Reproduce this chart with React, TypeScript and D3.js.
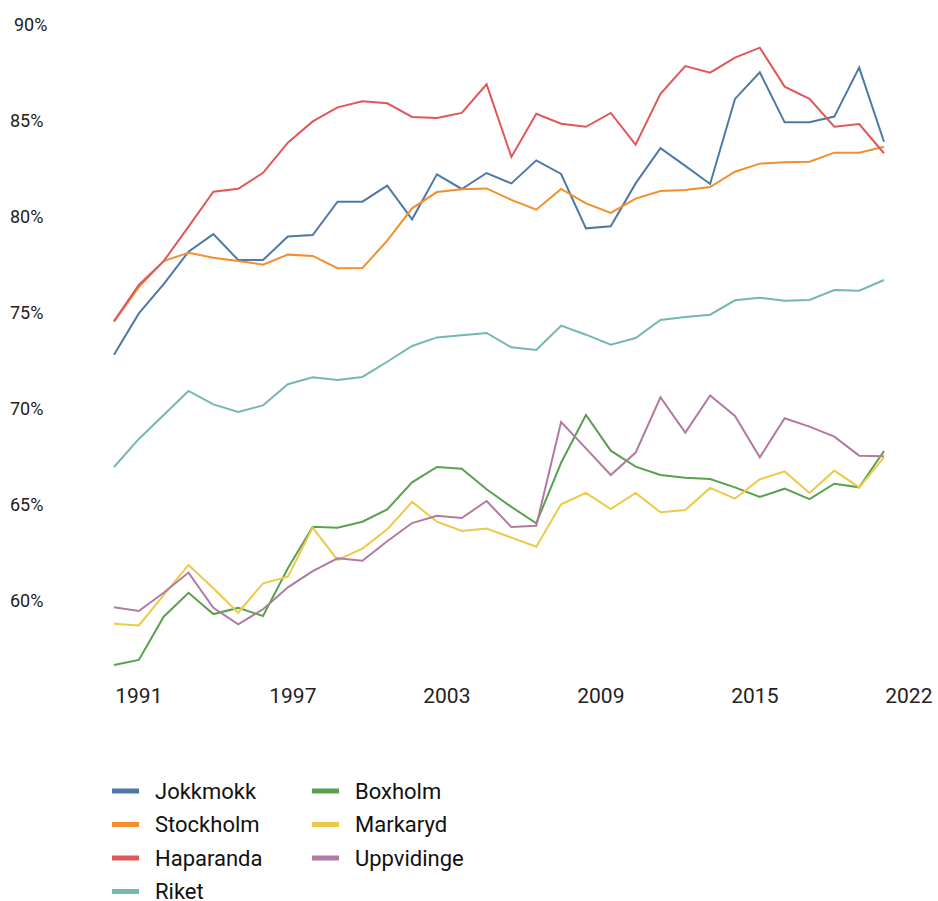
import React from 'react';
import * as d3 from 'd3';

const years = d3.range(1990, 2022);

const jokkmokk = [72.83, 74.98, 76.5, 78.19, 79.11, 77.76, 77.76, 78.98, 79.06, 80.8, 80.8, 81.63, 79.88, 82.22, 81.46, 82.29, 81.75, 82.95, 82.24, 79.41, 79.52, 81.75, 83.58, 82.66, 81.72, 86.15, 87.54, 84.93, 84.93, 85.23, 87.78, 83.92];
const stockholm = [74.55, 76.35, 77.7, 78.14, 77.88, 77.71, 77.52, 78.04, 77.97, 77.33, 77.34, 78.77, 80.45, 81.3, 81.44, 81.49, 80.89, 80.38, 81.46, 80.71, 80.21, 80.96, 81.35, 81.41, 81.56, 82.36, 82.78, 82.85, 82.88, 83.35, 83.35, 83.66];
const haparanda = [74.58, 76.46, 77.7, 79.5, 81.32, 81.47, 82.3, 83.87, 84.98, 85.71, 86.03, 85.92, 85.21, 85.16, 85.42, 86.91, 83.13, 85.38, 84.86, 84.7, 85.42, 83.77, 86.41, 87.86, 87.52, 88.3, 88.82, 86.79, 86.16, 84.7, 84.84, 83.32];
const riket = [66.98, 68.44, 69.69, 70.94, 70.24, 69.84, 70.19, 71.29, 71.65, 71.51, 71.67, 72.46, 73.28, 73.73, 73.84, 73.96, 73.21, 73.07, 74.34, 73.87, 73.35, 73.7, 74.64, 74.79, 74.91, 75.66, 75.8, 75.64, 75.68, 76.2, 76.16, 76.72];
const boxholm = [56.67, 56.93, 59.18, 60.43, 59.32, 59.64, 59.22, 61.7, 63.87, 63.82, 64.13, 64.77, 66.18, 66.98, 66.89, 65.82, 64.9, 64.05, 67.2, 69.69, 67.83, 67.0, 66.56, 66.42, 66.35, 65.92, 65.42, 65.85, 65.31, 66.11, 65.92, 67.81];
const markaryd = [58.82, 58.73, 60.31, 61.88, 60.66, 59.39, 60.92, 61.27, 63.82, 62.14, 62.73, 63.73, 65.16, 64.13, 63.65, 63.77, 63.3, 62.83, 65.04, 65.63, 64.79, 65.63, 64.62, 64.74, 65.89, 65.33, 66.34, 66.75, 65.63, 66.79, 65.92, 67.48];
const uppvidinge = [59.67, 59.48, 60.43, 61.48, 59.65, 58.79, 59.57, 60.71, 61.56, 62.22, 62.1, 63.11, 64.06, 64.44, 64.32, 65.21, 63.85, 63.92, 69.32, 67.95, 66.56, 67.73, 70.61, 68.77, 70.71, 69.64, 67.48, 69.52, 69.08, 68.56, 67.57, 67.54];

const seriesNames = ['Jokkmokk', 'Stockholm', 'Haparanda', 'Riket', 'Boxholm', 'Markaryd', 'Uppvidinge'];
const seriesValues = [jokkmokk, stockholm, haparanda, riket, boxholm, markaryd, uppvidinge];
const colors = ['#4e79a7', '#f28e2b', '#e15759', '#76b7b2', '#59a14f', '#edc948', '#b07aa1'];

const yTicks = [60, 65, 70, 75, 80, 85, 90];
const xTickLabels = ['1991', '1997', '2003', '2009', '2015', '2022'];

const font = 'Roboto, "Noto Sans", sans-serif';

export default function App() {
  const width = 938;
  const height = 901;

  const x = d3.scaleLinear().domain([1990, 2021]).range([114, 884]);
  const y = d3.scaleLinear().domain([60, 90]).range([601, 25]);

  // tick labels are spread evenly from 1991 to 2022
  const tickPos = d3.scaleLinear().domain([0, xTickLabels.length - 1]).range([x(1991), x(2022)]);

  const line = d3.line<number>()
    .x((_, i) => x(years[i]))
    .y(d => y(d));

  // legend in two columns: first four, then the rest
  const legendItems = seriesNames.map((name, i) => ({
    name,
    color: colors[i],
    col: i < 4 ? 0 : 1,
    row: i < 4 ? i : i - 4,
  }));

  return (
    <svg width={width} height={height} style={{ position: 'absolute', left: 0, top: 0 }} fontFamily={font}>
      <rect width={width} height={height} fill="#ffffff" />

      {yTicks.map(t => (
        <text key={t} x={t === 90 ? 14 : 10} y={y(t)} dy="0.35em" fontSize={18} fill="#222">
          {t}%
        </text>
      ))}

      {xTickLabels.map((label, i) => (
        <text key={label} x={tickPos(i)} y={696} dy="0.35em" textAnchor="middle" fontSize={21} fill="#222">
          {label}
        </text>
      ))}

      {seriesValues.map((vals, i) => (
        <path key={seriesNames[i]} d={line(vals) || ''} fill="none" stroke={colors[i]} strokeWidth={2} strokeLinejoin="miter" />
      ))}

      {legendItems.map(item => {
        const lx = item.col === 0 ? 112 : 312;
        const ly = 791 + item.row * 33.5;
        return (
          <g key={item.name} transform={`translate(${lx},${ly})`}>
            <line x1={0} x2={27} y1={0} y2={0} stroke={item.color} strokeWidth={5} />
            <text x={43} y={0} dy="0.35em" fontSize={22} fill="#111">{item.name}</text>
          </g>
        );
      })}
    </svg>
  );
}
